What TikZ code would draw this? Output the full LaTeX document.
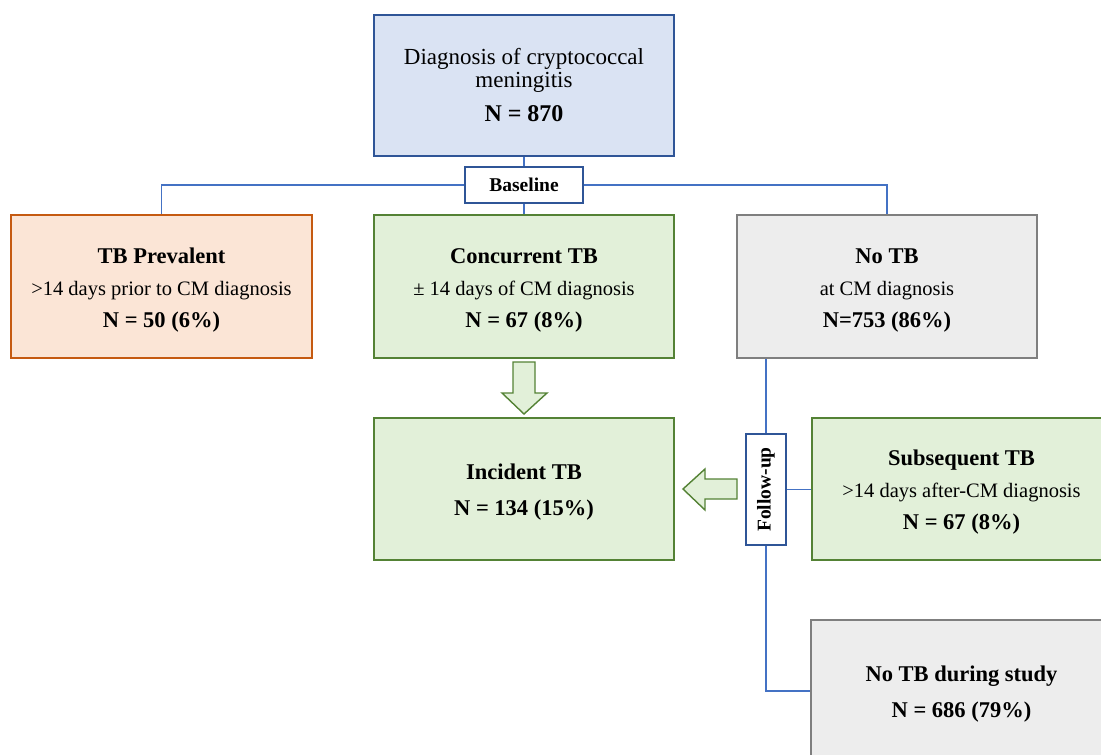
\documentclass[tikz,border=0pt]{standalone}
\usepackage{fontspec}
\setmainfont{Liberation Serif}
\definecolor{lnblue}{HTML}{4472C4}
\definecolor{dkblue}{HTML}{2F5597}
\definecolor{fblue}{HTML}{DAE3F3}
\definecolor{orbd}{HTML}{C55A11}
\definecolor{orfl}{HTML}{FBE5D6}
\definecolor{grbd}{HTML}{548235}
\definecolor{grfl}{HTML}{E2F0D9}
\definecolor{gybd}{HTML}{7F7F7F}
\definecolor{gyfl}{HTML}{EDEDED}
\newcommand\regtxt{\fontsize{20.5}{32}\selectfont}
\newcommand\boldtxt{\fontsize{22.5}{32}\selectfont\bfseries}
\newcommand\topstrut{\rule{0pt}{22pt}}
\tikzset{
  box/.style={draw, line width=1.6pt, align=center, inner sep=0pt, anchor=center, font=\fontsize{20.5}{32}\selectfont},
  bluebox/.style={box, draw=dkblue, fill=fblue},
  orbox/.style={box, draw=orbd, fill=orfl},
  grbox/.style={box, draw=grbd, fill=grfl},
  gybox/.style={box, draw=gybd, fill=gyfl},
  lblbox/.style={draw=dkblue, line width=1.4pt, fill=white, inner sep=0pt, anchor=center, font=\fontsize{19.5}{23}\selectfont\bfseries},
  conn/.style={draw=lnblue, line width=1.5pt},
  blockarrow/.style={draw=grbd, fill=grfl, line width=1.4pt, line join=miter},
}
\begin{document}
\begin{tikzpicture}[x=1pt,y=-1pt]
\useasboundingbox (0,0) rectangle (1101,755);
\clip (0,0) rectangle (1101,755);

\node[bluebox, minimum width=300pt, minimum height=141pt, font=\fontsize{23}{23}\selectfont] (top) at (524,85.5)
  {Diagnosis of cryptococcal\\ meningitis\\[11pt] {\fontsize{24}{24}\selectfont\bfseries N = 870}};

\node[lblbox, minimum width=118pt, minimum height=36pt] (base) at (524,185) {Baseline};

\node[orbox, minimum width=301pt, minimum height=143pt] (prev) at (161.5,286.5)
  {\topstrut{\boldtxt TB Prevalent}\\ {\regtxt >14 days prior to CM diagnosis}\\ {\boldtxt N = 50 (6\%)}};

\node[grbox, minimum width=300pt, minimum height=143pt] (conc) at (524,286.5)
  {\topstrut{\boldtxt Concurrent TB}\\ {\regtxt ± 14 days of CM diagnosis}\\ {\boldtxt N = 67 (8\%)}};

\node[gybox, minimum width=300pt, minimum height=143pt] (notb) at (887,286.5)
  {\topstrut{\boldtxt No TB}\\ {\regtxt at CM diagnosis}\\ {\boldtxt N=753 (86\%)}};

\node[grbox, minimum width=300pt, minimum height=142pt] (inc) at (524,489)
  {\topstrut{\boldtxt Incident TB}\\[4pt] {\boldtxt N = 134 (15\%)}};

\node[lblbox, minimum width=111pt, minimum height=40pt, rotate=90] (fu) at (766,489.5) {Follow-up};

\node[grbox, minimum width=299pt, minimum height=142pt] (subs) at (961.5,489)
  {\topstrut{\boldtxt Subsequent TB}\\ {\regtxt >14 days after-CM diagnosis}\\ {\boldtxt N = 67 (8\%)}};

\node[gybox, minimum width=301pt, minimum height=142pt] (nodur) at (961.5,691)
  {\topstrut{\boldtxt No TB during study}\\[4pt] {\boldtxt N = 686 (79\%)}};

% connectors
\draw[conn] (top.south) -- (base.north);
\draw[conn] (base.south) -- (conc.north);
\draw[conn] (base.west) -| (prev.north);
\draw[conn] (base.east) -| (notb.north);
\draw[conn] (notb.south -| fu.east) -- (fu.east);
\draw[conn] (fu.west) |- (nodur.west);
\draw[conn] (fu.south) -- (fu.south -| subs.west);

% block arrows
\draw[blockarrow] (513,362) -- (535,362) -- (535,393) -- (547,393) -- (524,414) -- (502,393) -- (513,393) -- cycle;
\draw[blockarrow] (737,479) -- (737,499) -- (705,499) -- (705,510) -- (683,489) -- (705,469) -- (705,479) -- cycle;
\end{tikzpicture}
\end{document}
